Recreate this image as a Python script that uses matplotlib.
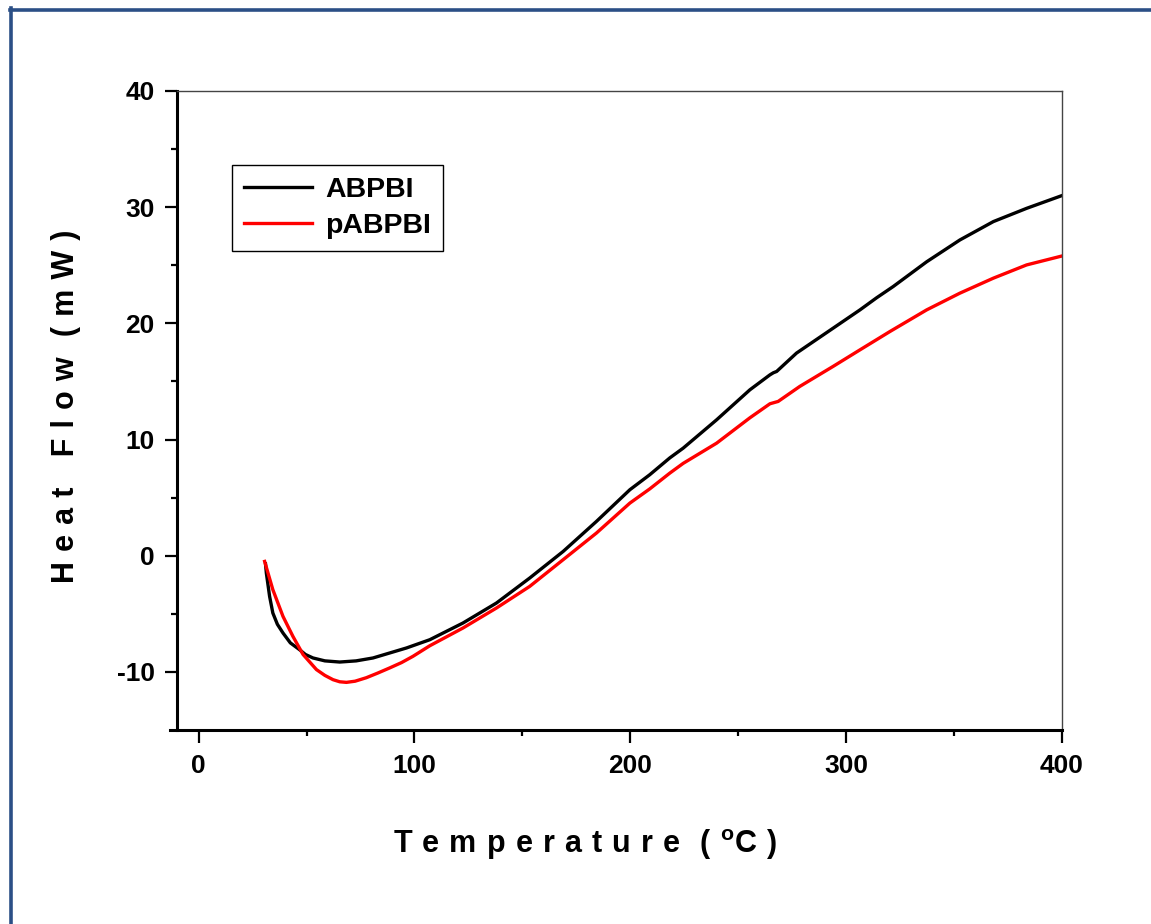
import matplotlib
matplotlib.use("Agg")
import matplotlib.pyplot as plt
from matplotlib.lines import Line2D

plt.rcParams["font.family"] = ["Liberation Sans", "DejaVu Sans"]
plt.rcParams["font.weight"] = "bold"
plt.rcParams["mathtext.fontset"] = "custom"
plt.rcParams["mathtext.rm"] = "Liberation Sans:bold"
plt.rcParams["mathtext.bf"] = "Liberation Sans:bold"
plt.rcParams["axes.unicode_minus"] = False

# ABPBI (black)
abpbi_T = [31.0, 31.4, 32.9, 34.4, 36.5, 39.1, 42.5, 46.8, 49.5, 53.0, 58.5, 65.4,
           73.0, 80.8, 96.3, 107.1, 122.5, 138.0, 153.4, 168.9, 184.3, 199.8,
           209.0, 218.3, 224.5, 240.0, 255.4, 264.7, 266.3, 267.8, 277.0, 294.0,
           306.4, 314.1, 321.8, 337.3, 352.7, 368.2, 383.6, 400.0]
abpbi_hf = [-0.7, -1.5, -3.5, -4.93, -5.9, -6.65, -7.5, -8.09, -8.5, -8.8, -9.05, -9.15,
            -9.05, -8.8, -7.94, -7.23, -5.79, -4.07, -1.92, 0.37, 2.95, 5.68,
            6.97, 8.42, 9.26, 11.7, 14.28, 15.57, 15.75, 15.86, 17.44, 19.59,
            21.16, 22.2, 23.17, 25.3, 27.18, 28.76, 29.9, 31.0]

# pABPBI (red)
pabpbi_T = [30.6, 34.4, 39.1, 43.7, 48.4, 54.6, 58.5, 62.3, 65.4, 68.5, 72.5, 77.7,
            83.0, 88.5, 94.0, 99.3, 107.1, 122.5, 138.0, 153.4, 168.9, 184.3,
            199.8, 209.0, 218.3, 224.5, 240.0, 255.4, 264.7, 268.5, 278.5, 294.0,
            306.4, 320.3, 337.3, 352.7, 368.2, 383.6, 400.0]
pabpbi_hf = [-0.49, -2.92, -5.22, -6.94, -8.5, -9.8, -10.3, -10.67, -10.85, -10.9, -10.8, -10.5,
             -10.1, -9.66, -9.2, -8.66, -7.75, -6.22, -4.5, -2.64, -0.34, 1.95,
             4.53, 5.75, 7.11, 7.95, 9.69, 11.87, 13.08, 13.28, 14.57, 16.3,
             17.72, 19.3, 21.16, 22.6, 23.89, 25.03, 25.8]

x_ticks = [0, 100, 200, 300, 400]
y_ticks = [-10, 0, 10, 20, 30, 40]

W, H = 1151, 924
fig = plt.figure(figsize=(W / 100, H / 100), dpi=100)
ax = fig.add_axes([177 / W, 1 - 730 / H, (1062 - 177) / W, (730 - 91) / H])

ax.plot(abpbi_T, abpbi_hf, color="black", lw=2.4, label="ABPBI",
        solid_joinstyle="round")
ax.plot(pabpbi_T, pabpbi_hf, color="#ff0000", lw=2.4, label="pABPBI",
        solid_joinstyle="round")

ax.set_xlim(-10, 400)
ax.set_ylim(-15, 40)
ax.set_xticks(x_ticks)
ax.set_yticks(y_ticks)
ax.set_xticks([50, 150, 250, 350], minor=True)
ax.set_yticks([-5, 5, 15, 25, 35], minor=True)
ax.tick_params(which="major", direction="out", length=9, width=1.6,
               labelsize=19, colors="black")
ax.tick_params(which="minor", direction="out", length=4.5, width=1.6)
ax.tick_params(axis="x", pad=8)
ax.tick_params(axis="y", pad=7)
for lab in ax.get_xticklabels() + ax.get_yticklabels():
    lab.set_fontweight("bold")

for s in ["left", "bottom"]:
    ax.spines[s].set_linewidth(2.2)
for s in ["top", "right"]:
    ax.spines[s].set_linewidth(1.0)
    ax.spines[s].set_color("#444444")
ax.spines["bottom"].set_bounds(-13.3, 400)

leg = ax.legend(loc="upper left", bbox_to_anchor=(232 / W, 1 - 165 / H),
                bbox_transform=fig.transFigure, borderaxespad=0,
                fancybox=False, framealpha=1, edgecolor="black",
                prop={"size": 20.5, "weight": "bold"}, handlelength=2.4,
                handletextpad=0.45, borderpad=0.42, labelspacing=0.36)
leg.get_frame().set_linewidth(1.0)

sp = "\u2004"
xlab = sp.join("Temperature") + sp + sp + "(" + sp + r"$^{\mathbf{o}}$C" + sp + ")"
ylab = sp.join("Heat") + sp * 3 + sp.join("Flow") + sp + sp + "(" + sp + sp.join("mW") + sp + ")"
fig.text(585 / W, 1 - 853 / H, xlab,
         ha="center", va="baseline", fontsize=22, fontweight="bold")
fig.text(66 / W, 1 - 406 / H, ylab,
         ha="center", va="center", rotation=90, fontsize=22, fontweight="bold")

# outer frame (top and left edges)
frame_col = "#2b4f86"
fig.add_artist(Line2D([9.5 / W, 1], [1 - 9.5 / H, 1 - 9.5 / H],
                      transform=fig.transFigure, color=frame_col, lw=2.6))
fig.add_artist(Line2D([11 / W, 11 / W], [0, 1 - 8 / H],
                      transform=fig.transFigure, color=frame_col, lw=2.6))

fig.savefig("out.png", dpi=100)
